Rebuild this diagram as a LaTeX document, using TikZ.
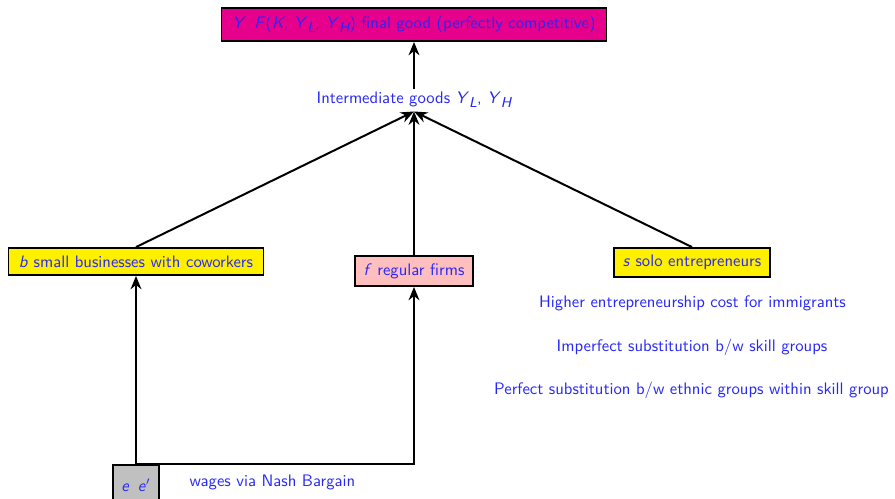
\documentclass[tikz,border=0pt]{standalone}
\usepackage{amsmath}
\usetikzlibrary{arrows.meta}
\renewcommand{\familydefault}{\sfdefault}
\definecolor{txtblue}{RGB}{40,40,245}
\definecolor{topfill}{RGB}{230,0,140}
\definecolor{firmfill}{RGB}{255,191,191}
\definecolor{boxyellow}{RGB}{255,240,0}
\definecolor{wagegray}{RGB}{192,192,192}
\newcommand{\iv}[1]{\textit{#1}}
\newcommand{\sub}[1]{\raisebox{-0.55ex}{\fontsize{8.6}{10}\selectfont\itshape #1}}
\begin{document}
\begin{tikzpicture}[x=0.6pt,y=-0.6pt,
  every node/.style={text=txtblue,font=\sffamily\fontsize{10}{12}\selectfont},
  boxed/.style={draw=black,line width=1.1pt,inner sep=0pt,align=center},
  plain/.style={inner sep=2pt},
  link/.style={draw=black,line width=1.2pt,-{Stealth[length=8pt,width=6.5pt]}}]
  \useasboundingbox (0,0) rectangle (895,498);

  % final good and intermediate goods
  \node[boxed,fill=topfill,minimum width=231pt,minimum height=19.8pt] (top) at (414,24.5)
    {\iv{Y}\enspace\iv{F}(\iv{K}, \iv{Y}\sub{L}, \iv{Y}\sub{H}) final good (perfectly competitive)};
  \node[plain] (inter) at (414,100) {Intermediate goods \iv{Y}\sub{L}, \iv{Y}\sub{H}};

  % producers
  \node[boxed,fill=boxyellow,minimum width=153pt,minimum height=16.2pt] (b) at (136,261.5)
    {\iv{b} small businesses with coworkers};
  \node[boxed,fill=firmfill,minimum width=70.8pt,minimum height=18pt] (f) at (414,271)
    {\iv{f} regular firms};
  \node[boxed,fill=boxyellow,minimum width=93.6pt,minimum height=17.4pt] (s) at (692,262.5)
    {\iv{s} solo entrepreneurs};

  % workers
  \node[boxed,fill=wagegray,minimum width=27.6pt,minimum height=24pt] (e) at (136,485)
    {\iv{e}\enspace\iv{e}$'$};
  \node[plain] (wage) at (272.5,482) {wages via Nash Bargain};

  % assumptions
  \node[plain] (n1) at (692.5,303) {Higher entrepreneurship cost for immigrants};
  \node[plain] (n2) at (692,347) {Imperfect substitution b/w skill groups};
  \node[plain] (n3) at (691.5,390) {Perfect substitution b/w ethnic groups within skill group};

  % connectors
  \draw[link] (inter.north) -- (top.south);
  \draw[link] (b.north) -- (inter.south);
  \draw[link] (f.north) -- (inter.south);
  \draw[link] (s.north) -- (inter.south);
  \draw[link] (e.north) -- (b.south);
  \draw[link] (e.north) -| (f.south);
\end{tikzpicture}
\end{document}
